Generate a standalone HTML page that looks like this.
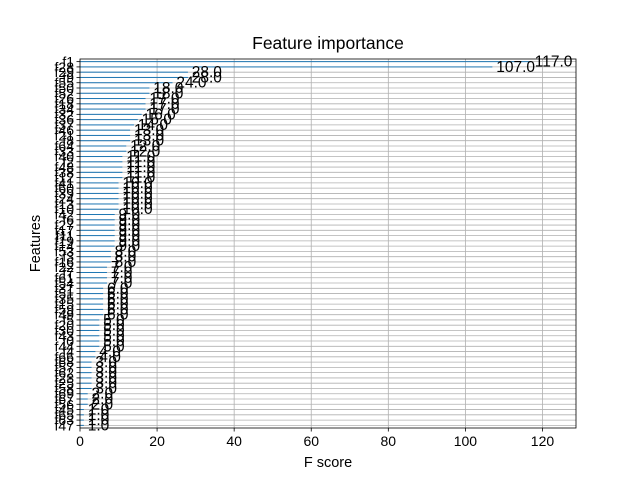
<!DOCTYPE html>
<html><head><meta charset="utf-8"><style>
html,body{margin:0;padding:0;background:#fff}
svg{display:block;font-family:"Liberation Sans","DejaVu Sans",sans-serif}
</style></head><body>
<svg id="chart" width="640" height="480" viewBox="0 0 640 480">
<text x="328" y="49" font-size="17.5" text-anchor="middle">Feature importance</text>
<text x="328" y="467" font-size="14.5" text-anchor="middle">F score</text>
<text transform="translate(40,243.5) rotate(-90)" font-size="14.5" text-anchor="middle">Features</text>
<g id="grid"></g>
<g id="hgrid"></g>
<g id="bars"></g>
<g id="labels"></g>
<g id="xaxis"></g>
<g id="yaxis"></g>
<rect x="80" y="59" width="496" height="369" fill="none" stroke="#000" stroke-width="0.8"/>
</svg>
<script>
const features = ["f1","f28","f29","f9","f55","f50","f52","f26","f18","f34","f32","f36","f37","f46","f21","f8","f64","f33","f40","f2","f48","f38","f12","f41","f60","f39","f24","f13","f10","f42","f6","f27","f17","f11","f19","f14","f53","f3","f16","f22","f7","f61","f54","f31","f51","f35","f15","f59","f49","f5","f20","f30","f43","f0","f44","f4","f66","f68","f57","f62","f23","f25","f58","f69","f67","f56","f45","f65","f63","f47"];
const scores = [117,107,28,28,24,18,18,17,17,17,16,15,14,13,13,13,12,12,11,11,11,11,11,10,10,10,10,10,10,9,9,9,9,9,9,9,8,8,8,7,7,7,7,6,6,6,6,6,6,5,5,5,5,5,5,4,4,3,3,3,3,3,3,2,2,2,1,1,1,1];
const xTicks = [0,20,40,60,80,100,120];

const NS="http://www.w3.org/2000/svg";
const L=80,R=576,T=59,B=428,XMAX=117*1.1;
const xs=v=>L+v/XMAX*(R-L);
const n=features.length, rowH=(B-T)/n;
const ys=i=>T+(i+0.5)*rowH;
function mk(tag,attrs,parent){const e=document.createElementNS(NS,tag);for(const k in attrs)e.setAttribute(k,attrs[k]);parent.appendChild(e);return e;}
const grid=document.getElementById('grid'),bars=document.getElementById('bars'),hgrid=document.getElementById('hgrid'),
labels=document.getElementById('labels'),xaxis=document.getElementById('xaxis'),yaxis=document.getElementById('yaxis');
xTicks.forEach(t=>{
  const g=mk('line',{x1:xs(t),x2:xs(t),y1:T,y2:B,stroke:'#b0b0b0','stroke-width':0.8},grid);
  
  
  const tk=mk('line',{x1:xs(t),x2:xs(t),y1:B,y2:B+3.5,stroke:'#000','stroke-width':0.8},xaxis);
  
  
  const tx=mk('text',{x:xs(t),y:B+18,'font-size':14,'text-anchor':'middle'},xaxis);
  tx.textContent=t;
  
  
});
features.forEach((f,i)=>{
  const y=ys(i),v=scores[i];
  const h=mk('line',{x1:L,x2:R,y1:y,y2:y,stroke:'#b0b0b0','stroke-width':0.8},hgrid);
  
  
  const b=mk('rect',{x:L,y:y-0.5,width:xs(v)-L,height:1,fill:'#1f77b4'},bars);
  
  
  const lb=mk('text',{x:xs(v+1),y:y+5,'font-size':15.5},labels);
  lb.textContent=v.toFixed(1);
  
  
  const tk=mk('line',{x1:L-3.5,x2:L,y1:y,y2:y,stroke:'#000','stroke-width':0.8},yaxis);
  
  
  const tl=mk('text',{x:L-6,y:y+5,'font-size':14,'text-anchor':'end'},yaxis);
  tl.textContent=f;
  
  
});
</script>
</body></html>
